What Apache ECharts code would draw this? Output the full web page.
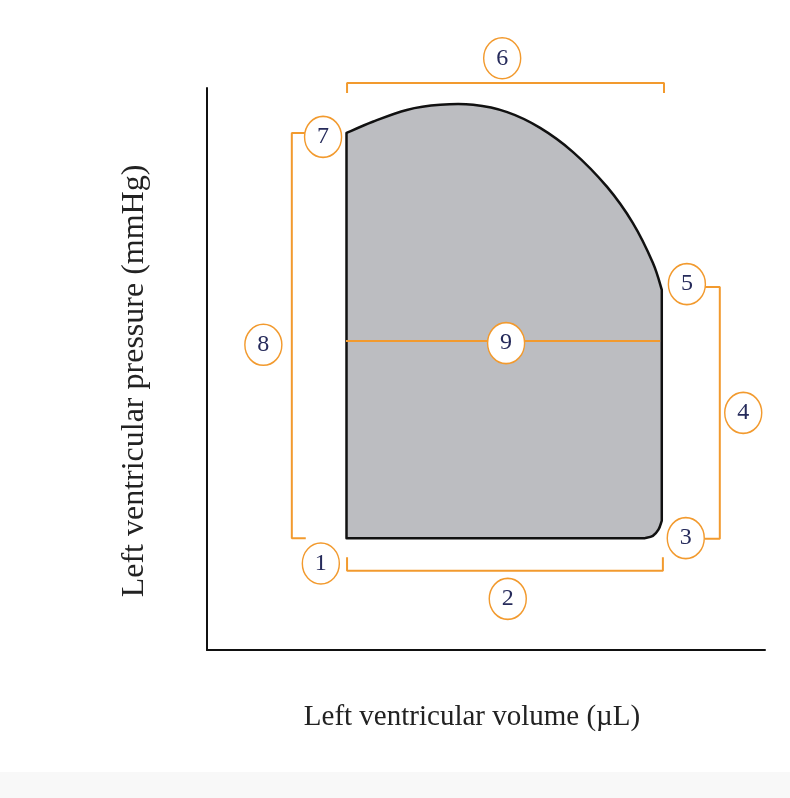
<!DOCTYPE html>
<html>
<head>
<meta charset="utf-8">
<style>
  html, body { margin: 0; padding: 0; background: #fff; }
  #chart { width: 790px; height: 798px; }
</style>
<script src="https://cdn.jsdelivr.net/npm/echarts@6/dist/echarts.min.js"></script>
</head>
<body>
<div id="chart"></div>
<script>
// 压力-容积环 (pressure-volume loop), units: volume 0-100, pressure 0-100
var loopVol  = [25.0, 29.7, 35.8, 41.8, 47.7, 53.8, 59.7, 65.6, 71.7, 76.3, 79.9, 81.5, 81.5, 80.9, 79.9, 78.5, 25.0];
var loopPres = [92.0, 94.0, 96.1, 97.0, 97.0, 95.7, 92.9, 88.6, 82.4, 76.0, 68.9, 64.1, 23.0, 21.4, 20.3, 19.9, 19.9];
// 哪些段画成平滑曲线 [起点, 终点] (index into loop arrays)
var smoothRuns = [[0, 11], [12, 15]];

// numbered markers
var markNums = ['1', '2', '3', '4', '5', '6', '7', '8', '9'];
var markVol  = [20.4, 53.9, 85.8, 96.1, 86.0, 52.9, 20.8, 10.1, 53.6];
var markPres = [15.4, 9.1, 19.9, 42.2, 65.1, 105.3, 91.3, 54.3, 54.6];

// brackets / guide lines: [volume, pressure] points
var bracket2 = [[25.1, 16.5], [25.1, 14.1], [81.7, 14.1], [81.7, 16.5]];
var bracket4 = [[89.2, 64.6], [91.9, 64.6], [91.9, 19.8], [89.2, 19.8]];
var bracket6 = [[25.1, 99.1], [25.1, 100.9], [81.9, 100.9], [81.9, 99.1]];
var bracket8 = [[17.9, 92.0], [15.2, 92.0], [15.2, 19.9], [17.7, 19.9]];
var line9    = [[24.9, 55.0], [81.2, 55.0]];

var orange = '#f29a2e';
var serif = "'Liberation Serif', 'DejaVu Serif', serif";

var chart = echarts.init(document.getElementById('chart'));

function guide(data) {
  return {
    type: 'line',
    data: data,
    showSymbol: false,
    silent: true,
    clip: false,
    z: 3,
    lineStyle: { color: orange, width: 2 }
  };
}

// 路径：平滑段用 Catmull-Rom 转三次贝塞尔，其余为直线
function loopPath(pts) {
  var d = 'M' + pts[0][0] + ' ' + pts[0][1];
  for (var i = 0; i < pts.length - 1; i++) {
    var run = null;
    smoothRuns.forEach(function (r) { if (i >= r[0] && i < r[1]) run = r; });
    var p1 = pts[i], p2 = pts[i + 1];
    if (!run) {
      d += ' L' + p2[0] + ' ' + p2[1];
      continue;
    }
    var p0 = i > run[0] ? pts[i - 1] : p1;
    var p3 = i + 1 < run[1] ? pts[i + 2] : p2;
    var c1 = [p1[0] + (p2[0] - p0[0]) / 6, p1[1] + (p2[1] - p0[1]) / 6];
    var c2 = [p2[0] - (p3[0] - p1[0]) / 6, p2[1] - (p3[1] - p1[1]) / 6];
    d += ' C' + c1[0] + ' ' + c1[1] + ' ' + c2[0] + ' ' + c2[1] + ' ' + p2[0] + ' ' + p2[1];
  }
  return d + ' Z';
}

var option = {
  backgroundColor: '#ffffff',
  animation: false,
  graphic: [{
    type: 'rect',
    shape: { x: 0, y: 772, width: 790, height: 26 },
    style: { fill: '#f8f8f8' },
    z: -10
  }],
  grid: { left: 207, top: 88, width: 558, height: 562 },
  xAxis: {
    type: 'value',
    min: 0,
    max: 100,
    name: 'Left ventricular volume (µL)',
    nameLocation: 'middle',
    nameGap: 53,
    nameTextStyle: { fontFamily: serif, fontSize: 29, color: '#222', padding: [0, 28, 0, 0] },
    axisLine: { lineStyle: { color: '#111', width: 2 } },
    axisTick: { show: false },
    axisLabel: { show: false },
    splitLine: { show: false }
  },
  yAxis: {
    type: 'value',
    min: 0,
    max: 100,
    name: 'Left ventricular pressure (mmHg)',
    nameLocation: 'middle',
    nameGap: 56,
    nameTextStyle: { fontFamily: serif, fontSize: 32, color: '#222', padding: [0, 24, 0, 0] },
    axisLine: { lineStyle: { color: '#111', width: 2 } },
    axisTick: { show: false },
    axisLabel: { show: false },
    splitLine: { show: false }
  },
  series: [
    {
      // 环的填充区域
      type: 'custom',
      silent: true,
      z: 2,
      data: [0],
      renderItem: function (params, api) {
        var pts = loopVol.map(function (v, i) { return api.coord([v, loopPres[i]]); });
        return {
          type: 'path',
          shape: { pathData: loopPath(pts) },
          style: { fill: '#bcbdc1', stroke: '#111', lineWidth: 2.5, lineJoin: 'round' }
        };
      }
    },
    guide(bracket2),
    guide(bracket4),
    guide(bracket6),
    guide(bracket8),
    guide(line9),
    {
      // 编号圆圈
      type: 'scatter',
      silent: true,
      clip: false,
      z: 5,
      symbol: 'circle',
      symbolSize: [37, 41],
      itemStyle: { color: '#ffffff', borderColor: orange, borderWidth: 1.5, opacity: 1 },
      label: {
        show: true,
        position: 'inside',
        formatter: function (p) { return p.name; },
        fontFamily: serif,
        fontSize: 24,
        color: '#262b5b'
      },
      data: markNums.map(function (n, i) { return { name: n, value: [markVol[i], markPres[i]] }; })
    }
  ]
};

chart.setOption(option);
</script>
</body>
</html>
